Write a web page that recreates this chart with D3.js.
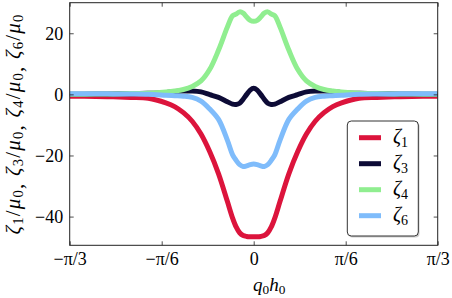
<!DOCTYPE html>
<html><head><meta charset="utf-8">
<script src="https://cdn.jsdelivr.net/npm/d3@7"></script>
<style>
body{margin:0;background:#fff;}
svg{display:block;}
</style></head>
<body><svg id="c" width="452" height="298" font-family="Liberation Serif"></svg>
<script>
const q = [-1.047,-0.9,-0.8,-0.7,-0.6,-0.5,-0.45,-0.4,-0.35,-0.3,-0.25,-0.2,-0.15,-0.12,-0.1,-0.08,-0.06,-0.04,-0.02,0,
           0.02,0.04,0.06,0.08,0.1,0.12,0.15,0.2,0.25,0.3,0.35,0.4,0.45,0.5,0.6,0.7,0.8,0.9,1.047];
const zeta1 = [-0.6,-0.7,-0.8,-1.0,-1.3,-2.8,-4.0,-6.0,-8.8,-13.0,-18.8,-26.0,-35.0,-40.5,-43.4,-45.3,-46.2,-46.5,-46.6,-46.6,
               -46.6,-46.5,-46.2,-45.3,-43.4,-40.5,-35.0,-26.0,-18.8,-13.0,-8.8,-6.0,-4.0,-2.8,-1.3,-1.0,-0.8,-0.7,-0.6];
const zeta3 = [0.05,0.1,0.15,0.2,0.35,0.55,0.9,1.1,1.1,0.8,-0.1,-1.0,-2.4,-3.2,-3.3,-2.9,-1.6,0.0,1.4,2.0,
               1.4,0.0,-1.6,-2.9,-3.3,-3.2,-2.4,-1.0,-0.1,0.8,1.1,1.1,0.9,0.55,0.35,0.2,0.15,0.1,0.05];
const zeta4 = [0.05,0.1,0.15,0.25,0.4,0.8,1.1,1.6,2.6,4.4,8.2,14.5,22.0,25.7,26.3,27.0,26.6,25.3,24.2,23.9,
               24.2,25.3,26.6,27.0,26.3,25.7,22.0,14.5,8.2,4.4,2.6,1.6,1.1,0.8,0.4,0.25,0.15,0.1,0.05];
const zeta6 = [0.2,0.2,0.15,0.1,0.0,-0.3,-0.45,-0.6,-1.0,-2.2,-4.8,-8.2,-15.0,-19.8,-21.6,-23.0,-23.6,-23.4,-23.0,-22.8,
               -23.0,-23.4,-23.6,-23.0,-21.6,-19.8,-15.0,-8.2,-4.8,-2.2,-1.0,-0.6,-0.45,-0.3,0.0,0.1,0.15,0.2,0.2];
const seriesNames = ["1","3","4","6"];
const seriesColors = ["#dc143c","#0d0b36","#90ee90","#7fbcfb"];
const xTickVals = [-Math.PI/3,-Math.PI/6,0,Math.PI/6,Math.PI/3];
const xTickLabels = ["\u2212\u03c0/3","\u2212\u03c0/6","0","\u03c0/6","\u03c0/3"];
const yTickVals = [-40,-20,0,20];

const FONT = "Liberation Serif";
const svg = d3.select("#c");
const L=69.7, R=437.7, T=2.7, B=245.3;
const x = d3.scaleLinear().domain([-Math.PI/3, Math.PI/3]).range([L,R]);
const y = d3.scaleLinear().domain([-49.4, 30]).range([B,T]);

svg.append("clipPath").attr("id","clp").append("rect")
  .attr("x",L).attr("y",T).attr("width",R-L).attr("height",B-T);

const allSeries = [zeta1,zeta3,zeta4,zeta6];
const line = d3.line().x((d,i)=>x(q[i])).y(d=>y(d)).curve(d3.curveCatmullRom.alpha(0.5));
const g = svg.append("g").attr("clip-path","url(#clp)");
allSeries.forEach((s,k)=>{
  g.append("path").attr("d",line(s)).attr("fill","none")
   .attr("stroke",seriesColors[k]).attr("stroke-width",5).attr("stroke-linejoin","round");
});

const fmtY = d => d<0 ? "\u2212"+Math.abs(d) : String(d);
const ax = (sel)=>{sel.attr("font-family",FONT); sel.select(".domain").remove();
  sel.selectAll("line").attr("stroke","#222").attr("stroke-width",0.8);
  sel.selectAll("text").attr("font-family",FONT).attr("font-size",18).attr("fill","#000");};
svg.append("g").attr("transform",`translate(0,${B})`)
  .call(d3.axisBottom(x).tickValues(xTickVals).tickFormat((d,i)=>xTickLabels[i]).tickSizeInner(-4).tickSizeOuter(0).tickPadding(7))
  .call(ax);
svg.append("g").attr("transform",`translate(0,${T})`)
  .call(d3.axisTop(x).tickValues(xTickVals).tickFormat("").tickSizeInner(-4).tickSizeOuter(0)).call(ax);
svg.append("g").attr("transform",`translate(${L},0)`)
  .call(d3.axisLeft(y).tickValues(yTickVals).tickFormat(fmtY).tickSizeInner(-4).tickSizeOuter(0).tickPadding(6.5))
  .call(ax);
svg.append("g").attr("transform",`translate(${R},0)`)
  .call(d3.axisRight(y).tickValues(yTickVals).tickFormat("").tickSizeInner(-4).tickSizeOuter(0)).call(ax);
svg.append("rect").attr("x",L).attr("y",T).attr("width",R-L).attr("height",B-T)
  .attr("fill","none").attr("stroke","#222").attr("stroke-width",1);

// x label
const xl = svg.append("text").attr("x",253).attr("y",291).attr("font-size",19).attr("font-family",FONT);
xl.append("tspan").attr("font-style","italic").text("q");
xl.append("tspan").attr("font-size","0.7em").attr("dy",3).text("0");
xl.append("tspan").attr("font-style","italic").attr("dy",-3).text("h");
xl.append("tspan").attr("font-size","0.7em").attr("dy",3).text("0");

// y label
const yl = svg.append("text").attr("transform",`translate(19.5,${(T+B)/2}) rotate(-90)`)
  .attr("text-anchor","middle").attr("font-size",21).attr("letter-spacing",1.2).attr("font-family",FONT);
seriesNames.forEach((n,i)=>{
  yl.append("tspan").attr("font-style","italic").attr("dy",i===0?0:-3).text("\u03b6");
  yl.append("tspan").attr("font-size","0.7em").attr("dy",3).text(n);
  yl.append("tspan").attr("dy",-3).text("/");
  yl.append("tspan").attr("font-style","italic").text("\u03bc");
  yl.append("tspan").attr("font-size","0.7em").attr("dy",3).text("0");
  if(i<3) yl.append("tspan").text(", ");
});

// legend
const lg = svg.append("g").attr("font-family",FONT);
lg.append("rect").attr("x",348.5).attr("y",122.5).attr("width",71).attr("height",115).attr("rx",4)
  .attr("fill","#999").attr("opacity",0.5);
lg.append("rect").attr("x",347.3).attr("y",121).attr("width",71).attr("height",115).attr("rx",4)
  .attr("fill","#fff").attr("stroke","#333").attr("stroke-width",1);
seriesNames.forEach((n,i)=>{
  const yy = 137.7 + i*26;
  lg.append("line").attr("x1",359).attr("x2",381).attr("y1",yy).attr("y2",yy)
    .attr("stroke",seriesColors[i]).attr("stroke-width",5);
  const t = lg.append("text").attr("x",393).attr("y",yy+5).attr("font-size",20);
  t.append("tspan").attr("font-style","italic").text("\u03b6");
  t.append("tspan").attr("font-size","0.7em").attr("dy",4).text(n);
});
</script></body></html>
